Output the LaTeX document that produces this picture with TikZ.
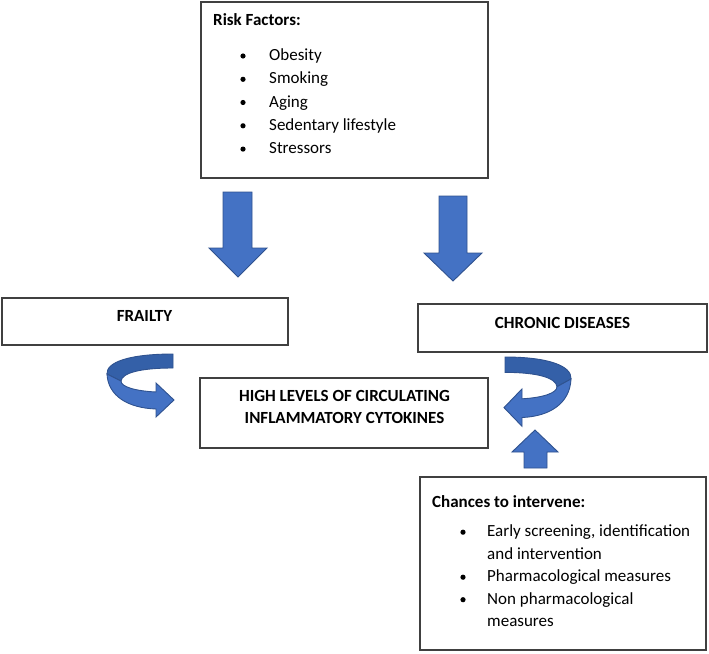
\documentclass[tikz,border=0pt]{standalone}
\usepackage{fontspec}
\setmainfont{Carlito}
\definecolor{arrfill}{HTML}{4472C4}
\definecolor{arrdark}{HTML}{3460A8}
\definecolor{arredge}{HTML}{2F528F}
\definecolor{boxedge}{HTML}{404040}
\tikzset{
  box/.style={draw=boxedge, line width=1.2pt, fill=white, inner sep=0pt, outer sep=0pt, anchor=north west},
  txt/.style={inner sep=0pt, anchor=base west, font=\fontsize{17}{20}\selectfont},
  ctxt/.style={inner sep=0pt, anchor=base, font=\fontsize{17}{20}\selectfont\bfseries},
  bul/.style={circle, fill=black, inner sep=0pt, minimum size=5.2pt},
  blockarrow/.style={fill=arrfill, draw=arredge, line width=0.9pt, line join=miter},
  backband/.style={fill=arrdark, draw=arredge, line width=0.9pt},
}
\begin{document}
\begin{tikzpicture}[x=1pt, y=-1pt]
\useasboundingbox (0,0) rectangle (709,653);

% boxes
\node[box, minimum width=287pt, minimum height=176pt] (risk) at (201,2) {};
\node[box, minimum width=286pt, minimum height=47pt] (frail) at (2,298) {};
\node[box, minimum width=289pt, minimum height=48pt] (chronic) at (418,304) {};
\node[box, minimum width=288pt, minimum height=70pt] (high) at (200,378) {};
\node[box, minimum width=286pt, minimum height=173pt] (chance) at (420,477) {};

% risk factors text
\node[txt, font=\fontsize{17}{20}\selectfont\bfseries] (rft) at (213,25) {Risk Factors:};
\node[txt] (r1) at (269,60.5) {Obesity};
\node[txt] (r2) at (269,83.8) {Smoking};
\node[txt] (r3) at (269,107) {Aging};
\node[txt] (r4) at (269,130.3) {Sedentary lifestyle};
\node[txt] (r5) at (269,153.6) {Stressors};
\node[bul] (rb1) at (243,56) {};
\node[bul] (rb2) at (243,79.3) {};
\node[bul] (rb3) at (243,102.5) {};
\node[bul] (rb4) at (243,125.8) {};
\node[bul] (rb5) at (243,149.1) {};

% titles
\node[ctxt] (ft) at (144.5,321.7) {FRAILTY};
\node[ctxt] (ct) at (562.5,328) {CHRONIC DISEASES};
\node[ctxt] (h1) at (344.5,401.7) {HIGH LEVELS OF CIRCULATING};
\node[ctxt] (h2) at (344.5,423.3) {INFLAMMATORY CYTOKINES};

% chances text
\node[txt, font=\fontsize{17}{20}\selectfont\bfseries] (cht) at (432,507) {Chances to intervene:};
\node[txt] (c1) at (487,536.7) {Early screening, identification};
\node[txt] (c1b) at (487,559.2) {and intervention};
\node[txt] (c2) at (487,581.7) {Pharmacological measures};
\node[txt] (c3) at (487,604.2) {Non pharmacological};
\node[txt] (c3b) at (487,626.7) {measures};
\node[bul] (cb1) at (463,532.2) {};
\node[bul] (cb2) at (463,577.2) {};
\node[bul] (cb3) at (463,599.7) {};

% straight block arrows
\draw[blockarrow] (223,192) -- (252,192) -- (252,248) -- (267,248) -- (238,277) -- (209,248) -- (223,248) -- cycle;
\draw[blockarrow] (439,196) -- (467,196) -- (467,253) -- (482,253) -- (453,281) -- (424,253) -- (439,253) -- cycle;
\draw[blockarrow] (524,468) -- (547,468) -- (547,452) -- (558,452) -- (535,430) -- (512,452) -- (524,452) -- cycle;

% curved arrows
\begin{scope}[shift={(107,354)}]
  \draw[backband] (66,0) .. controls (23,0) and (-1,8) .. (0,20) -- (14,27) .. controls (15,19) and (33,14) .. (66,14) -- cycle;
  \draw[blockarrow] (0,20) .. controls (1,42) and (21,54) .. (49,55) -- (49,63) -- (67,46) -- (49,29) -- (49,38) .. controls (29,37) and (14,33) .. (14,27) -- cycle;
\end{scope}
\begin{scope}[shift={(571,357)}, xscale=-1, yscale=1.1]
  \draw[backband] (66,0) .. controls (23,0) and (-1,8) .. (0,20) -- (14,27) .. controls (15,19) and (33,14) .. (66,14) -- cycle;
  \draw[blockarrow] (0,20) .. controls (1,42) and (21,54) .. (49,55) -- (49,63) -- (67,46) -- (49,29) -- (49,38) .. controls (29,37) and (14,33) .. (14,27) -- cycle;
\end{scope}
\end{tikzpicture}
\end{document}
